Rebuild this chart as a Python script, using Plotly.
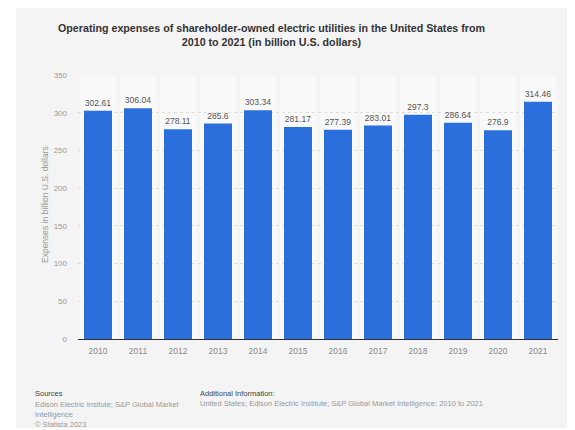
import plotly.graph_objects as go

years = ["2010", "2011", "2012", "2013", "2014", "2015", "2016", "2017", "2018", "2019", "2020", "2021"]
expenses = [302.61, 306.04, 278.11, 285.6, 303.34, 281.17, 277.39, 283.01, 297.3, 286.64, 276.9, 314.46]
value_labels = ["302.61", "306.04", "278.11", "285.6", "303.34", "281.17", "277.39", "283.01", "297.3", "286.64", "276.9", "314.46"]
y_ticks = [0, 50, 100, 150, 200, 250, 300, 350]

# page body has an 8px margin; work in screen pixels and convert
O = 8
W, H = 567, 422
L, R, T, B = 70, 17, 67, 91
PW, PH = W - L - R, H - T - B

def px(x):
    return (x - O - L) / PW

def py(y):
    return (H - B - (y - O)) / PH

FONT = "Liberation Sans, Arial, sans-serif"

fig = go.Figure()
fig.add_trace(go.Bar(
    x=years, y=expenses, text=value_labels, textposition="outside",
    textfont=dict(size=8.5, color="#555555", family=FONT),
    marker=dict(color="#2a6fdb", line=dict(width=0)),
    cliponaxis=False, hoverinfo="x+y",
))

shapes = [dict(type="rect", xref="paper", yref="paper", x0=px(16), x1=px(580), y0=py(428), y1=py(7),
               fillcolor="#f4f4f4", line=dict(width=0), layer="below")]
for i, _ in enumerate(years):
    shapes.append(dict(type="rect", xref="x", yref="paper", x0=i - 0.45, x1=i + 0.45, y0=0, y1=1,
                       fillcolor="#f9f9f9", line=dict(width=0), layer="below"))

annotations = [
    dict(text="<b>Operating expenses of shareholder-owned electric utilities in the United States from<br>2010 to 2021 (in billion U.S. dollars)</b>",
         xref="paper", yref="paper", x=px(271), y=py(35), xanchor="center", yanchor="middle",
         showarrow=False, font=dict(size=10.7, color="#333333", family=FONT), align="center"),
    dict(text="Expenses in billion U.S. dollars", textangle=-90, xref="paper", yref="paper",
         x=px(45), y=py(205), xanchor="center", yanchor="middle", showarrow=False,
         font=dict(size=8.5, color="#999999", family=FONT)),
    dict(text="Sources", xref="paper", yref="paper", x=px(33), y=py(393), xanchor="left", yanchor="middle",
         showarrow=False, font=dict(size=7.5, color="#444444", family=FONT)),
    dict(text="Edison Electric Insitute; S&P Global Market<br>Intelligence<br>© Statista 2023",
         xref="paper", yref="paper", x=px(33), y=py(397.5), xanchor="left", yanchor="top", align="left",
         showarrow=False, font=dict(size=7.5, color="#999999", family=FONT)),
    dict(text="Additional Information:", xref="paper", yref="paper", x=px(198), y=py(393), xanchor="left", yanchor="middle",
         showarrow=False, font=dict(size=7.5, color="#444444", family=FONT)),
    dict(text="United States; Edison Electric Institute; S&P Global Market Intelligence; 2010 to 2021",
         xref="paper", yref="paper", x=px(198), y=py(403), xanchor="left", yanchor="middle",
         showarrow=False, font=dict(size=7.5, color="#999999", family=FONT)),
]

fig.update_layout(
    width=W, height=H, margin=dict(l=L, r=R, t=T, b=B, autoexpand=False),
    paper_bgcolor="white", plot_bgcolor="rgba(0,0,0,0)",
    bargap=0.3, showlegend=False, shapes=shapes, annotations=annotations,
    font=dict(family=FONT),
)
fig.update_xaxes(type="category", tickfont=dict(size=8.5, color="#888888"), showgrid=False,
                 showline=True, linecolor="#333333", linewidth=1, ticks="", ticklabelstandoff=4)
fig.update_yaxes(range=[0, 350], tickvals=y_ticks, tickfont=dict(size=8, color="#999999"),
                 showgrid=True, gridcolor="#dddddd", griddash="dot", gridwidth=1,
                 zeroline=False, showline=False, ticks="", ticklabelstandoff=10)

fig.write_html("out.html")
